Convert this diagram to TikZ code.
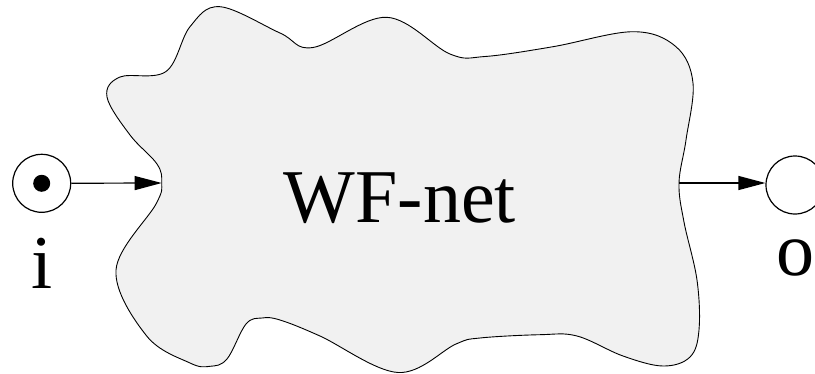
\documentclass[tikz,border=0pt]{standalone}
\usepackage{fontspec}
\setmainfont{Liberation Serif}
\usetikzlibrary{arrows.meta}
\definecolor{blobfill}{HTML}{F1F1F1}
\tikzset{
  place/.style={circle, draw, line width=1.2pt, minimum size=58pt, inner sep=0pt},
  token/.style={circle, fill=black, minimum size=17pt, inner sep=0pt},
  arc/.style={line width=1.2pt, -{Triangle[length=27pt,width=14pt]}},
  blob/.style={draw, line width=0.9pt, fill=blobfill},
  lbl/.style={anchor=base, inner sep=0pt, font=\fontsize{76}{90}\selectfont},
}
\begin{document}
\begin{tikzpicture}[x=1pt,y=-1pt]
\useasboundingbox (0,0) rectangle (815,373);
\draw[blob] plot[smooth cycle, tension=0.6] coordinates {
 (161.7,183) (157,164) (130,135) (107,97) (120,77) (166,71.5)
 (190,26.7) (220,6.7) (280,33) (313,47.5) (386.7,17.3)
 (450,54) (485,56.5) (553,46.7) (633,31.7) (676,46.7) (693,83) (686,140) (679,183)
 (684,222) (697,280) (699,330) (690,357) (663,366) (623,356) (577,336) (540,334.7)
 (480,338) (456,344) (398,372.5) (320,336) (280,320) (262,318)
 (246,324) (227,359) (210,366.3) (190,363) (146.7,336) (116,270)
 (156,204)
};
\coordinate (bin) at (161.7,183);
\coordinate (bout) at (679,183);
\node[place] (i) at (41.7,183.3) {};
\node[token] (tok) at (i.center) {};
\node[place] (o) at (795,185) {};
\draw[arc] (i) -- (bin);
\draw[arc] (bout) -- (bout -| o.west);
\node[lbl] (wf) at (400,222.7) {WF-net};
\node[lbl] (il) at (42.5,288.3) {i};
\node[lbl] (ol) at (795.5,275) {o};
\end{tikzpicture}
\end{document}
